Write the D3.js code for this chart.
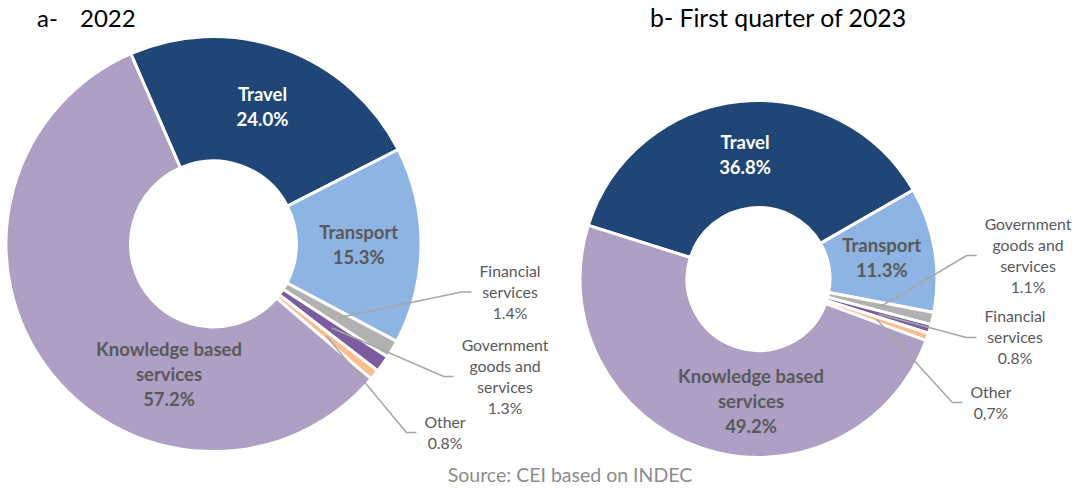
<!DOCTYPE html>
<html>
<head>
<meta charset="utf-8">
<script src="https://cdn.jsdelivr.net/npm/d3@7"></script>
<style>
  html, body { margin: 0; padding: 0; background: #fff; }
  svg { display: block; font-family: Lato, "Open Sans", sans-serif; }
</style>
</head>
<body>
<svg id="chart" width="1078" height="488"></svg>
<script>
// ---------- data ----------
const categoriesA = ["Travel", "Transport", "Financial services", "Government goods and services", "Other", "Knowledge based services"];
const valuesA = [24.0, 15.3, 1.4, 1.3, 0.8, 57.2];
const valueTextA = ["24.0%", "15.3%", "1.4%", "1.3%", "0.8%", "57.2%"];

const categoriesB = ["Travel", "Transport", "Government goods and services", "Financial services", "Other", "Knowledge based services"];
const valuesB = [36.8, 11.3, 1.1, 0.8, 0.7, 49.2];
const valueTextB = ["36.8%", "11.3%", "1.1%", "0.8%", "0,7%", "49.2%"];

const titleA = ["a-", "2022"];
const titleB = "b- First quarter of 2023";
const sourceText = "Source: CEI based on INDEC";

// ---------- styles / layout ----------
const sliceColors = ["#1F4677", "#8DB4E2", "#B1B1B1", "#7B5D9F", "#F9BE8E", "#AE9FC5"];
const lineBreaks = {
  "Knowledge based services": ["Knowledge based", "services"],
  "Financial services": ["Financial", "services"],
  "Government goods and services": ["Government", "goods and", "services"]
};
const insideLabel = [true, true, false, false, false, true];

const charts = [
  {
    cats: categoriesA, vals: valuesA, texts: valueTextA,
    cx: 213.5, cy: 244, R: 207.5, r: 83, start: -23.5,
    insideOverride: { 5: [-44.5, 131] },
    outside: { 2: [510, 292], 3: [505, 376.5], 4: [445, 432.5] }
  },
  {
    cats: categoriesB, vals: valuesB, texts: valueTextB,
    cx: 758.5, cy: 279, R: 178.5, r: 71.5, start: -72.5,
    insideOverride: { 5: [-7.5, 123] },
    outside: { 2: [1028, 255.5], 3: [1015, 337.5], 4: [991, 402.5] }
  }
];

const svg = d3.select("#chart");
const pieLayer = svg.append("g");
const lineLayer = svg.append("g");
const labelLayer = svg.append("g");
const toRad = d => d * Math.PI / 180;

charts.forEach(c => {
  const pie = d3.pie().sort(null).value(d => d)
    .startAngle(toRad(c.start)).endAngle(toRad(c.start) + 2 * Math.PI);
  const arcs = pie(c.vals);
  const arc = d3.arc().innerRadius(c.r).outerRadius(c.R);
  const g = pieLayer.append("g").attr("transform", `translate(${c.cx},${c.cy})`);

  g.selectAll("path.slice").data(arcs).join("path")
    .attr("class", "slice")
    .attr("d", arc)
    .attr("fill", (d, i) => sliceColors[i])
    .attr("stroke", "#fff")
    .attr("stroke-width", 3)
    .attr("stroke-linejoin", "miter");

  // inside labels
  arcs.forEach((d, i) => {
    if (!insideLabel[i]) return;
    const pos = c.insideOverride[i] || arc.centroid(d);
    const lines = (lineBreaks[c.cats[i]] || [c.cats[i]]).concat([c.texts[i]]);
    const lh = 25;
    const t = labelLayer.append("text")
      .attr("transform", `translate(${c.cx},${c.cy})`)
      .attr("text-anchor", "middle")
      .attr("font-weight", "bold")
      .attr("font-size", 18.5)
      .attr("fill", i === 0 ? "#ffffff" : "#595959");
    lines.forEach((ln, k) => {
      t.append("tspan")
        .attr("x", pos[0])
        .attr("y", pos[1] + (k - (lines.length - 1) / 2) * lh)
        .attr("dy", "0.35em")
        .text(ln);
    });
  });

  // outside labels with leader lines
  arcs.forEach((d, i) => {
    if (insideLabel[i]) return;
    const p = c.outside[i];
    const lines = (lineBreaks[c.cats[i]] || [c.cats[i]]).concat([c.texts[i]]);
    const lh = 21;
    const t = labelLayer.append("text")
      .attr("text-anchor", "middle")
      .attr("font-size", 15.8)
      .attr("fill", "#595959");
    lines.forEach((ln, k) => {
      t.append("tspan")
        .attr("x", p[0])
        .attr("y", p[1] + (k - (lines.length - 1) / 2) * lh)
        .attr("dy", "0.35em")
        .text(ln);
    });
    const bb = t.node().getBBox();
    const cen = arc.centroid(d);
    const sx = c.cx + cen[0], sy = c.cy + cen[1];
    const ex = bb.x - 8, ey = p[1];
    lineLayer.append("polyline")
      .attr("points", `${sx},${sy} ${ex - 10},${ey} ${ex},${ey}`)
      .attr("fill", "none")
      .attr("stroke", "#A6A6A6")
      .attr("stroke-width", 1.5);
  });
});

// titles
labelLayer.append("text").attr("x", 37).attr("y", 27).attr("font-size", 24).attr("fill", "#000").text(titleA[0]);
labelLayer.append("text").attr("x", 80).attr("y", 27).attr("font-size", 24).attr("fill", "#000").text(titleA[1]);
labelLayer.append("text").attr("x", 650).attr("y", 27).attr("font-size", 24.8).attr("fill", "#000").text(titleB);

// source
labelLayer.append("text").attr("x", 570).attr("y", 482).attr("text-anchor", "middle")
  .attr("font-size", 19.5).attr("fill", "#8C8C8C").text(sourceText);
</script>
</body>
</html>
